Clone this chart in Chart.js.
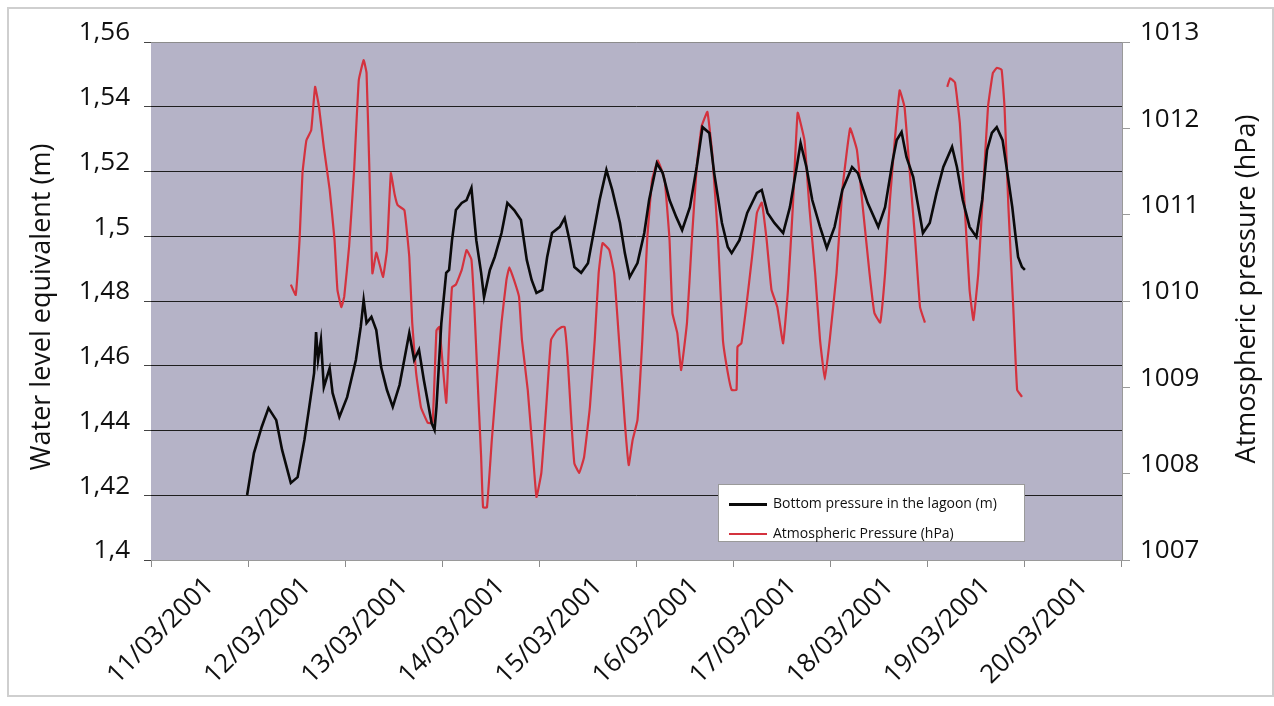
<!DOCTYPE html>
<html>
<head>
<meta charset="utf-8">
<script src="https://cdn.jsdelivr.net/npm/chart.js@4.4.0/dist/chart.umd.min.js"></script>
<style>
  body { margin: 0; background: #fff; }
  #wrap { position: relative; width: 1274px; height: 706px; }
  #frame { position: absolute; left: 7px; top: 7px; width: 1263px; height: 686px; border: 2px solid #cfcfcf; }
  canvas { position: absolute; left: 0; top: 0; }
  #legend { position: absolute; left: 718px; top: 484px; width: 305px; height: 56px;
            background: #fff; border: 1px solid #9a9a9a; font: 14px "Open Sans", sans-serif; color: #111; }
  #legend .row { position: absolute; left: 10px; height: 20px; line-height: 20px; white-space: nowrap; }
  #legend .sw { display: inline-block; width: 38px; vertical-align: middle; margin-right: 6px; }
</style>
</head>
<body>
<div id="wrap">
  <div id="frame"></div>
  <canvas id="chart" width="1274" height="706"></canvas>
  <div id="legend"></div>
</div>
<script>
// x values are days counted from 11/03/2001 00:00
const dateLabels = ["11/03/2001", "12/03/2001", "13/03/2001", "14/03/2001", "15/03/2001",
                    "16/03/2001", "17/03/2001", "18/03/2001", "19/03/2001", "20/03/2001"];

const bottomDays = [
  0.99,1.06,1.14,1.21,1.29,1.35,1.44,1.51,1.58,1.63,
  1.68,1.70,1.72,1.75,1.78,1.84,1.87,1.94,2.02,2.11,
  2.16,2.19,2.22,2.27,2.32,2.37,2.43,2.49,2.56,2.66,
  2.71,2.76,2.81,2.89,2.92,2.94,2.99,3.04,3.07,3.10,
  3.14,3.20,3.25,3.30,3.35,3.40,3.43,3.49,3.54,3.61,
  3.67,3.74,3.81,3.87,3.92,3.97,4.03,4.08,4.13,4.21,
  4.26,4.31,4.36,4.43,4.50,4.55,4.62,4.69,4.75,4.83,
  4.88,4.93,5.01,5.08,5.13,5.21,5.27,5.34,5.41,5.47,
  5.55,5.62,5.68,5.75,5.80,5.88,5.94,5.98,6.06,6.14,
  6.24,6.29,6.35,6.42,6.51,6.58,6.65,6.69,6.75,6.81,
  6.89,6.96,7.04,7.12,7.22,7.28,7.38,7.49,7.56,7.64,
  7.68,7.73,7.78,7.85,7.89,7.95,8.02,8.09,8.16,8.25,
  8.30,8.36,8.43,8.50,8.56,8.61,8.66,8.71,8.77,8.82,
  8.87,8.90,8.93,8.97,9.00
];
const bottomLevel = [
  1.4201,1.4330,1.4411,1.4469,1.4432,1.4340,1.4238,1.4256,1.4371,1.4473,
  1.4578,1.4704,1.4618,1.4680,1.4534,1.4593,1.4516,1.4442,1.4503,1.4618,
  1.4720,1.4803,1.4732,1.4751,1.4710,1.4596,1.4525,1.4473,1.4541,1.4701,
  1.4618,1.4649,1.4556,1.4423,1.4402,1.4473,1.4732,1.4887,1.4896,1.4988,
  1.5081,1.5103,1.5112,1.5149,1.4988,1.4887,1.4812,1.4896,1.4936,1.5010,
  1.5103,1.5081,1.5050,1.4927,1.4865,1.4825,1.4834,1.4936,1.5010,1.5029,
  1.5056,1.4988,1.4905,1.4887,1.4917,1.4998,1.5112,1.5205,1.5143,1.5041,
  1.4948,1.4874,1.4917,1.5010,1.5112,1.5226,1.5195,1.5112,1.5059,1.5019,
  1.5090,1.5214,1.5337,1.5319,1.5195,1.5041,1.4967,1.4948,1.4988,1.5072,
  1.5134,1.5143,1.5072,1.5041,1.5010,1.5090,1.5214,1.5288,1.5214,1.5112,
  1.5029,1.4964,1.5029,1.5143,1.5214,1.5195,1.5103,1.5029,1.5090,1.5236,
  1.5297,1.5322,1.5245,1.5183,1.5112,1.5010,1.5041,1.5134,1.5214,1.5276,
  1.5214,1.5112,1.5029,1.4998,1.5112,1.5266,1.5319,1.5337,1.5297,1.5195,
  1.5090,1.5010,1.4936,1.4905,1.4896
];

const atmDays = [
  1.44,1.49,1.53,1.56,1.60,1.65,1.69,1.73,1.78,1.84,
  1.89,1.92,1.96,1.99,2.04,2.09,2.14,2.19,2.22,2.25,
  2.28,2.32,2.35,2.39,2.43,2.47,2.51,2.54,2.61,2.66,
  2.69,2.73,2.78,2.85,2.90,2.94,2.97,3.04,3.07,3.10,
  3.14,3.20,3.25,3.30,3.33,3.36,3.40,3.42,3.46,3.51,
  3.56,3.61,3.66,3.69,3.74,3.79,3.82,3.88,3.93,3.97,
  4.02,4.07,4.12,4.18,4.23,4.26,4.29,4.33,4.36,4.41,
  4.46,4.52,4.57,4.61,4.65,4.72,4.77,4.82,4.88,4.92,
  4.96,5.01,5.06,5.11,5.16,5.22,5.29,5.34,5.37,5.42,
  5.46,5.52,5.57,5.62,5.67,5.73,5.78,5.84,5.89,5.94,
  5.98,6.03,6.04,6.08,6.13,6.19,6.24,6.29,6.34,6.39,
  6.45,6.51,6.56,6.61,6.66,6.73,6.78,6.84,6.89,6.94,
  6.99,7.06,7.12,7.20,7.27,7.33,7.40,7.45,7.51,7.56,
  7.61,7.66,7.71,7.76,7.81,7.87,7.92,7.97,8.08,8.20,
  8.23,8.28,8.33,8.38,8.43,8.47,8.52,8.57,8.62,8.67,
  8.71,8.76,8.79,8.83,8.88,8.92,8.97
];
const atmPressure = [
  1010.19,1010.07,1010.71,1011.48,1011.86,1011.98,1012.48,1012.25,1011.78,1011.29,
  1010.71,1010.13,1009.93,1010.05,1010.63,1011.48,1012.56,1012.79,1012.64,1011.48,
  1010.32,1010.56,1010.44,1010.28,1010.59,1011.48,1011.23,1011.11,1011.05,1010.51,
  1009.75,1009.17,1008.77,1008.59,1008.59,1009.66,1009.70,1008.82,1009.55,1010.16,
  1010.19,1010.36,1010.59,1010.48,1009.93,1009.17,1008.19,1007.61,1007.61,1008.39,
  1009.09,1009.75,1010.24,1010.39,1010.24,1010.05,1009.55,1008.97,1008.27,1007.73,
  1008.01,1008.77,1009.55,1009.66,1009.70,1009.70,1009.35,1008.59,1008.12,1008.01,
  1008.19,1008.77,1009.55,1010.32,1010.67,1010.59,1010.32,1009.55,1008.59,1008.10,
  1008.39,1008.62,1009.55,1010.71,1011.40,1011.63,1011.40,1010.71,1009.86,1009.63,
  1009.20,1009.75,1010.71,1011.55,1012.02,1012.19,1011.71,1010.71,1009.55,1009.17,
  1008.97,1008.97,1009.47,1009.51,1009.93,1010.51,1011.02,1011.14,1010.71,1010.13,
  1009.93,1009.51,1010.13,1011.09,1012.18,1011.86,1011.09,1010.32,1009.55,1009.09,
  1009.55,1010.32,1011.29,1012.00,1011.75,1011.09,1010.32,1009.86,1009.75,1010.32,
  1011.17,1011.86,1012.44,1012.25,1011.55,1010.71,1009.93,1009.75,null,1012.48,
  1012.58,1012.53,1012.06,1011.09,1010.13,1009.78,1010.32,1011.29,1012.25,1012.64,
  1012.70,1012.68,1012.25,1011.09,1009.93,1008.97,1008.89
];

const leftTitle = "Water level equivalent (m)";
const rightTitle = "Atmospheric pressure (hPa)";

const plotBg = {
  id: 'plotBg',
  beforeDraw(chart) {
    const { ctx, chartArea: a } = chart;
    ctx.save();
    ctx.fillStyle = '#b5b3c7';
    ctx.fillRect(a.left, a.top, a.right - a.left, a.bottom - a.top);
    ctx.restore();
  }
};

// both axis titles read bottom to top
const axisTitles = {
  id: 'axisTitles',
  afterDraw(chart) {
    const ctx = chart.ctx;
    ctx.save();
    ctx.fillStyle = '#111';
    ctx.font = '27px "Open Sans"';
    ctx.textAlign = 'center';
    ctx.textBaseline = 'alphabetic';
    [[leftTitle, 50, 307], [rightTitle, 1255, 289]].forEach(([t, x, y]) => {
      ctx.save();
      ctx.translate(x, y);
      ctx.rotate(-Math.PI / 2);
      ctx.fillText(t, 0, 0);
      ctx.restore();
    });
    ctx.restore();
  }
};

const tickFont = { family: 'Open Sans', size: 26 };

const chart = new Chart(document.getElementById('chart'), {
  type: 'line',
  data: {
    labels: dateLabels,
    datasets: [{
      label: 'Bottom pressure in the lagoon (m)',
      data: bottomDays.map((d, i) => ({ x: d, y: bottomLevel[i] })),
      xAxisID: 'xd',
      yAxisID: 'y',
      borderColor: '#0a0a0a',
      borderWidth: 2.6,
      pointRadius: 0,
      tension: 0
    }, {
      label: 'Atmospheric Pressure (hPa)',
      data: atmDays.map((d, i) => ({ x: d, y: atmPressure[i] })),
      xAxisID: 'xd',
      yAxisID: 'y1',
      borderColor: '#d4323e',
      borderWidth: 2.2,
      pointRadius: 0,
      tension: 0.1,
      spanGaps: false
    }]
  },
  options: {
    responsive: false,
    animation: false,
    layout: { padding: { top: 42, left: 0, right: 0, bottom: 0 } },
    plugins: { legend: { display: false }, tooltip: { enabled: false } },
    scales: {
      x: {
        type: 'category',
        position: 'bottom',
        offset: true,
        grid: { offset: true, drawOnChartArea: false, drawTicks: true, tickLength: 7, color: '#8c8c8c' },
        border: { color: '#9a9a9a' },
        ticks: { minRotation: 45, maxRotation: 45, autoSkip: false, padding: 4, labelOffset: 10,
                 color: '#111', font: tickFont },
        afterFit: s => { s.height = 146; }
      },
      xd: { type: 'linear', min: 0, max: 10, display: false },
      y: {
        position: 'left',
        min: 1.4, max: 1.56,
        ticks: {
          stepSize: 0.02, padding: 14, labelOffset: -9, color: '#111', font: tickFont,
          callback: v => String(Math.round(v * 100) / 100).replace('.', ',')
        },
        grid: {
          color: c => (c.tick && (c.tick.value < 1.401 || c.tick.value > 1.559)) ? '#8c8c8c' : '#1e1e1e',
          tickLength: 7, tickColor: '#444'
        },
        border: { display: false },
        afterFit: s => { s.width = 151; }
      },
      y1: {
        position: 'right',
        min: 1007, max: 1013,
        ticks: { stepSize: 1, padding: 10, labelOffset: -9, color: '#111', font: tickFont,
                 callback: v => String(v) },
        grid: { drawOnChartArea: false, tickLength: 8, color: '#9a9a9a' },
        border: { color: '#9a9a9a' },
        afterFit: s => { s.width = 152; }
      }
    }
  },
  plugins: [plotBg, axisTitles]
});

// legend box inside the plot
const legendEl = document.getElementById('legend');
chart.data.datasets.forEach((ds, i) => {
  const row = document.createElement('div');
  row.className = 'row';
  row.style.top = (8 + i * 30) + 'px';
  const sw = document.createElement('span');
  sw.className = 'sw';
  sw.style.borderTop = (i === 0 ? 3 : 2) + 'px solid ' + ds.borderColor;
  row.appendChild(sw);
  row.appendChild(document.createTextNode(ds.label));
  legendEl.appendChild(row);
});
</script>
</body>
</html>
